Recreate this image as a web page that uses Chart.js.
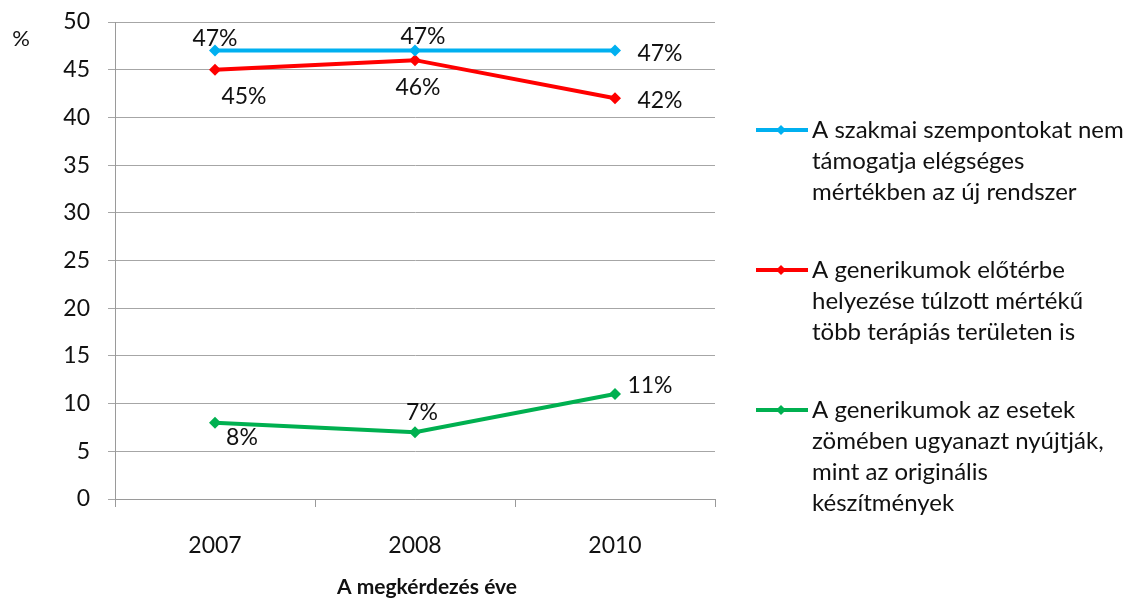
<!DOCTYPE html>
<html>
<head>
<meta charset="utf-8">
<script src="https://cdn.jsdelivr.net/npm/chart.js@4/dist/chart.umd.min.js"></script>
<style>
    body { margin: 0; background: #fff; }
    #wrap { width: 1130px; height: 600px; }
</style>
</head>
<body>
<div id="wrap"><canvas id="chart" width="1130" height="600"></canvas></div>
<script>
// Chart data
var years = ['2007', '2008', '2010'];
var szakmaiNemTamogatja = [47, 47, 47];
var generikumokTulzott = [45, 46, 42];
var generikumokUgyanaz = [8, 7, 11];

// Legend labels (split into lines as in the original)
var seriesNames = [
    ['A szakmai szempontokat nem', 'támogatja elégséges', 'mértékben az új rendszer'],
    ['A generikumok előtérbe', 'helyezése túlzott mértékű', 'több terápiás területen is'],
    ['A generikumok az esetek', 'zömében ugyanazt nyújtják,', 'mint az originális', 'készítmények']
];
var seriesColors = ['#00b0f0', '#ff0000', '#00b050'];

// Y axis range
var yMin = 0, yMax = 50, yStep = 5;

var xTitle = 'A megkérdezés éve';
var yTitle = '%';

var fontFamily = 'Lato, "Open Sans", sans-serif';

// Where each value label sits relative to its point (dx, dy)
var labelOffsets = [
    [[0, -12], [8, -14], [45, 3]],
    [[29, 27], [3, 27], [45, 2]],
    [[27, 15], [7, -20], [35, -8]]
];

// Plugin drawing value labels, axis titles and the multi-line legend
var extrasPlugin = {
    id: 'extras',
    afterDatasetsDraw: function (chart) {
        var ctx = chart.ctx;
        ctx.save();
        ctx.font = '23px ' + fontFamily;
        ctx.fillStyle = '#111';
        ctx.textAlign = 'center';
        ctx.textBaseline = 'middle';
        chart.data.datasets.forEach(function (ds, i) {
            var meta = chart.getDatasetMeta(i);
            meta.data.forEach(function (pt, j) {
                var off = labelOffsets[i][j];
                ctx.fillText(ds.data[j] + '%', pt.x + off[0], pt.y + off[1]);
            });
        });

        // axis titles
        ctx.font = '22px ' + fontFamily;
        ctx.fillText(yTitle, 21, 39);
        ctx.font = 'bold 21px ' + fontFamily;
        ctx.fillText(xTitle, 427, 587);

        // legend
        var legendTops = [130, 270, 410];
        ctx.font = '24px ' + fontFamily;
        ctx.textAlign = 'left';
        chart.data.datasets.forEach(function (ds, i) {
            var y = legendTops[i];
            ctx.strokeStyle = ds.borderColor;
            ctx.lineWidth = 4;
            ctx.beginPath();
            ctx.moveTo(756, y);
            ctx.lineTo(808, y);
            ctx.stroke();
            ctx.fillStyle = ds.borderColor;
            ctx.beginPath();
            ctx.moveTo(781, y - 5);
            ctx.lineTo(786, y);
            ctx.lineTo(781, y + 5);
            ctx.lineTo(776, y);
            ctx.closePath();
            ctx.fill();
            ctx.fillStyle = '#111';
            seriesNames[i].forEach(function (line, k) {
                ctx.fillText(line, 812, y + k * 31);
            });
        });
        ctx.restore();
    }
};

function makeDataset(values, idx) {
    return {
        label: seriesNames[idx].join(' '),
        data: values,
        borderColor: seriesColors[idx],
        backgroundColor: seriesColors[idx],
        borderWidth: 4,
        pointStyle: 'rectRot',
        pointRadius: 6,
        pointBorderWidth: 0,
        tension: 0
    };
}

var chart = new Chart(document.getElementById('chart').getContext('2d'), {
    type: 'line',
    data: {
        labels: years,
        datasets: [
            makeDataset(szakmaiNemTamogatja, 0),
            makeDataset(generikumokTulzott, 1),
            makeDataset(generikumokUgyanaz, 2)
        ]
    },
    options: {
        responsive: false,
        animation: false,
        layout: { padding: { top: 22, right: 415, left: 0, bottom: 0 } },
        plugins: {
            legend: { display: false },
            tooltip: { enabled: false }
        },
        scales: {
            x: {
                offset: true,
                grid: {
                    offset: true,
                    drawOnChartArea: false,
                    color: '#9a9a9a',
                    tickLength: 8
                },
                border: { color: '#9a9a9a', width: 1 },
                ticks: {
                    color: '#111',
                    padding: 25,
                    font: { size: 23, family: fontFamily }
                },
                afterFit: function (scale) {
                    scale.height = 101;
                    scale.paddingLeft = 0;
                    scale.paddingRight = 0;
                }
            },
            y: {
                min: yMin,
                max: yMax,
                grid: {
                    color: '#a6a6a6',
                    tickLength: 7
                },
                border: { color: '#9a9a9a', width: 1 },
                ticks: {
                    stepSize: yStep,
                    color: '#111',
                    padding: 18,
                    font: { size: 23, family: fontFamily }
                },
                afterFit: function (scale) {
                    scale.width = 115;
                    // tick label overflow must not push the plot box down
                    scale.paddingTop = 0;
                    scale.paddingBottom = 0;
                }
            }
        }
    },
    plugins: [extrasPlugin]
});
</script>
</body>
</html>
